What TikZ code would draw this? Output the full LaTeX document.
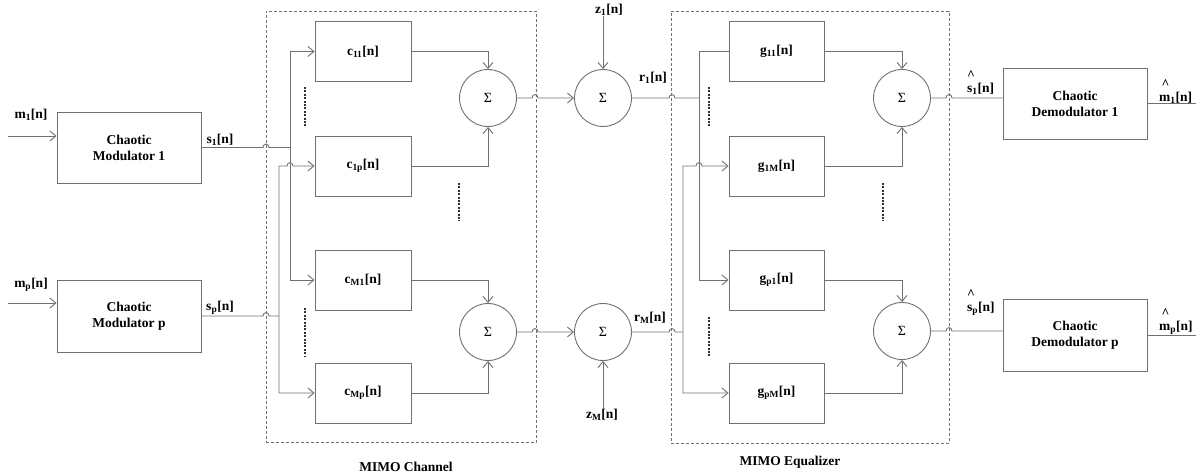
\documentclass[tikz,border=0pt]{standalone}
\usepackage{fontspec}
\setmainfont{Liberation Serif}
\usetikzlibrary{arrows.meta}
\definecolor{linegray}{HTML}{707070}
\definecolor{dotgray}{HTML}{303030}
\tikzset{
  wire/.style={draw=linegray,line width=0.9pt},
  blockbox/.style={draw=linegray,line width=0.9pt,rectangle,minimum width=96pt,minimum height=60pt,inner sep=0pt,font=\bfseries\fontsize{13.5}{16}\selectfont},
  modbox/.style={blockbox,minimum width=144pt,minimum height=71pt,align=center},
  sumnode/.style={draw=linegray,line width=0.9pt,circle,minimum size=57pt,inner sep=0pt,font=\fontsize{14}{16}\selectfont},
  lbl/.style={inner sep=0pt,font=\bfseries\fontsize{13.5}{16}\selectfont},
  hatlbl/.style={lbl,align=left,anchor=south west},
  groupbox/.style={draw=linegray,dash pattern=on 3pt off 2pt,line width=0.7pt,rectangle,inner sep=0pt},
  dotsline/.style={draw=dotgray,line width=2.6pt,dash pattern=on 2pt off 1.4pt}
}
% hop over a crossing line, going right
\newcommand{\hopr}[2]{-- (#1-3,#2) .. controls (#1-3,#2-4.5) and (#1+3,#2-4.5) .. (#1+3,#2)}
\begin{document}
\begin{tikzpicture}[x=1pt,y=-1pt,>={Straight Barb[length=6pt,width=10pt]}]
\useasboundingbox (0,0) rectangle (1196,476);
% groups
\node[groupbox,minimum width=270pt,minimum height=431pt] (chan) at (401,227) {};
\node[groupbox,minimum width=278pt,minimum height=432pt] (equ) at (810,227) {};
\node[lbl] (chanlbl) at (406,467) {MIMO Channel};
\node[lbl] (equlbl) at (790,462) {MIMO Equalizer};
% modulators
\node[modbox] (mod1) at (129,147.5) {Chaotic\\Modulator 1};
\node[modbox,minimum height=72pt] (modp) at (129,316) {Chaotic\\Modulator p};
\coordinate (m1in) at (8,136);
\coordinate (mpin) at (8,303);
\draw[wire,->] (m1in) -- (m1in -| mod1.west);
\draw[wire,->] (mpin) -- (mpin -| modp.west);
\node[lbl] (m1) at (31,115) {m\textsubscript{1}[n]};
\node[lbl] (mp) at (31,285) {m\textsubscript{p}[n]};
\node[lbl] (s1) at (220,140) {s\textsubscript{1}[n]};
\node[lbl] (sp) at (220,308) {s\textsubscript{p}[n]};
% channel
\node[blockbox] (c11) at (363,51.5) {c\textsubscript{11}[n]};
\node[blockbox] (c1p) at (363,166) {c\textsubscript{1p}[n]};
\node[blockbox] (cM1) at (363,280) {c\textsubscript{M1}[n]};
\node[blockbox] (cMp) at (363,393) {c\textsubscript{Mp}[n]};
\node[sumnode] (sum1) at (488,98) {Σ};
\node[sumnode] (sum2) at (488,332) {Σ};
\coordinate (s1top) at (290,51.5);
\coordinate (sptop) at (279,166);
\draw[wire] (mod1.east) \hopr{266}{147.5} -- (mod1.east -| s1top);
\draw[wire] (modp.east) \hopr{266}{316} -- (modp.east -| sptop);
\draw[wire,<->] (cM1.west) -| (s1top) -- (c11.west);
\draw[wire,<->] (cMp.west) -| (sptop) \hopr{290}{166} -- (c1p.west);
\draw[wire,->] (c11.east) -| (sum1.north);
\draw[wire,->] (c1p.east) -| (sum1.south);
\draw[wire,->] (cM1.east) -| (sum2.north);
\draw[wire,->] (cMp.east) -| (sum2.south);
\draw[dotsline] (305,87) -- (305,126);
\draw[dotsline] (459,183) -- (459,221);
\draw[dotsline] (305,308) -- (305,357);
% noise
\node[sumnode] (sum3) at (603,98) {Σ};
\node[sumnode] (sum4) at (603,332) {Σ};
\node[lbl] (z1) at (609,10) {z\textsubscript{1}[n]};
\node[lbl] (zM) at (602,415) {z\textsubscript{M}[n]};
\draw[wire,->] (sum1.east) \hopr{535}{98} -- (sum3.west);
\draw[wire,->] (sum2.east) \hopr{535}{332} -- (sum4.west);
\draw[wire,->] (z1.south -| sum3.north) -- (sum3.north);
\draw[wire,->] (zM.north -| sum4.south) -- (sum4.south);
\node[lbl] (r1) at (653,78) {r\textsubscript{1}[n]};
\node[lbl] (rM) at (650,318) {r\textsubscript{M}[n]};
% equalizer
\node[blockbox,minimum width=95pt] (g11) at (776.5,51.5) {g\textsubscript{11}[n]};
\node[blockbox,minimum width=95pt] (g1M) at (776.5,166) {g\textsubscript{1M}[n]};
\node[blockbox,minimum width=95pt] (gp1) at (776.5,280) {g\textsubscript{p1}[n]};
\node[blockbox,minimum width=95pt] (gpM) at (776.5,393) {g\textsubscript{pM}[n]};
\node[sumnode] (sum5) at (902,98) {Σ};
\node[sumnode] (sum6) at (902,331) {Σ};
\coordinate (r1top) at (699,51.5);
\coordinate (rMtop) at (683,166);
\draw[wire] (sum3.east) \hopr{672}{98} -- (sum3.east -| r1top);
\draw[wire] (sum4.east) \hopr{672}{332} -- (sum4.east -| rMtop);
\draw[wire,<-] (gp1.west) -| (r1top) -- (g11.west);
\draw[wire,<->] (gpM.west) -| (rMtop) \hopr{699}{166} -- (g1M.west);
\draw[wire,->] (g11.east) -| (sum5.north);
\draw[wire,->] (g1M.east) -| (sum5.south);
\draw[wire,->] (gp1.east) -| (sum6.north);
\draw[wire,->] (gpM.east) -| (sum6.south);
\draw[dotsline] (709,87) -- (709,126);
\draw[dotsline] (883,183) -- (883,221);
\draw[dotsline] (709,317) -- (709,356);
% demodulators
\node[modbox] (dem1) at (1075,103.5) {Chaotic\\Demodulator 1};
\node[modbox,minimum height=72pt] (demp) at (1075,335) {Chaotic\\Demodulator p};
\draw[wire] (sum5.east) \hopr{949}{98} -- (sum5.east -| dem1.west);
\draw[wire] (sum6.east) \hopr{949}{331} -- (sum6.east -| demp.west);
\coordinate (m1out) at (1196,103.5);
\coordinate (mpout) at (1196,335);
\draw[wire] (dem1.east) -- (m1out);
\draw[wire] (demp.east) -- (mpout);
\node[hatlbl] (s1hat) at (967,95) {\textasciicircum\\[-3pt]s\textsubscript{1}[n]};
\node[hatlbl] (sphat) at (967,316) {\textasciicircum\\[-3pt]s\textsubscript{p}[n]};
\node[hatlbl] (m1hat) at (1159,104) {\hspace{2.5pt}\textasciicircum\\[-3pt]m\textsubscript{1}[n]};
\node[hatlbl] (mphat) at (1159,335) {\hspace{2.5pt}\textasciicircum\\[-3pt]m\textsubscript{p}[n]};
\end{tikzpicture}
\end{document}
